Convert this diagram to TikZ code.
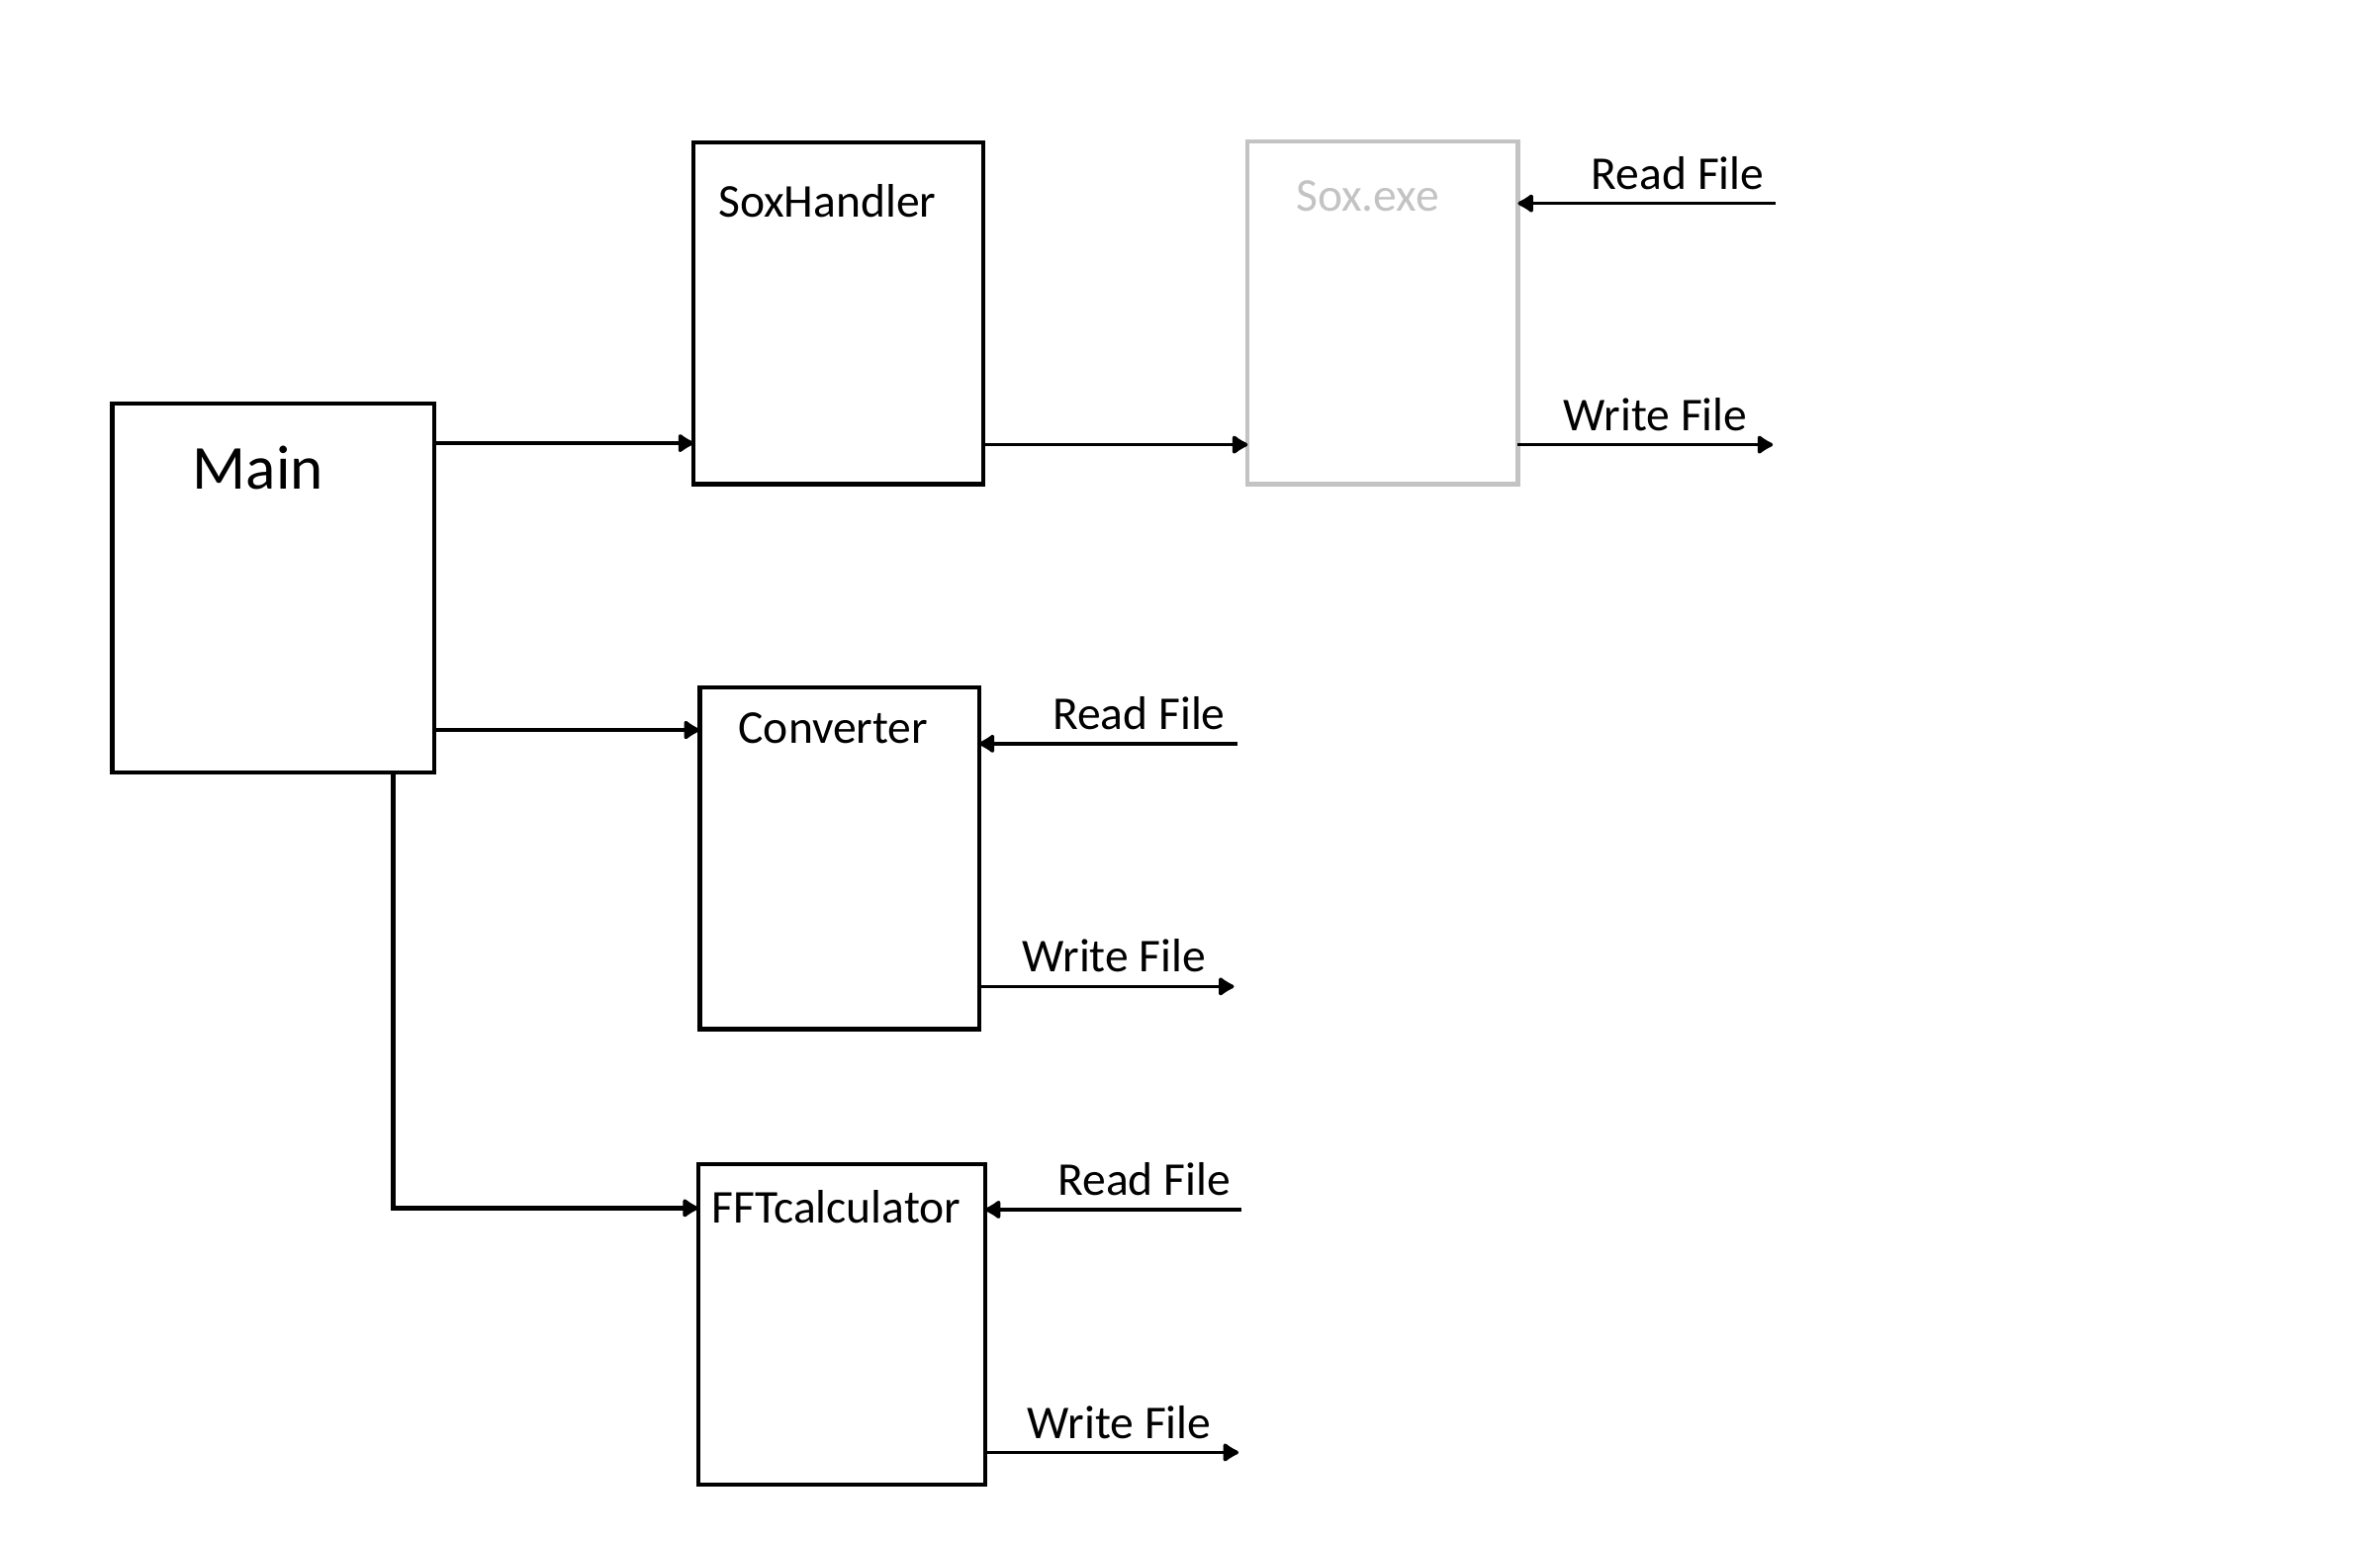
\documentclass[tikz,border=0pt]{standalone}
\usepackage{fontspec}
\setmainfont{Carlito}
\usetikzlibrary{positioning, arrows.meta}

\tikzset{
  box/.style={draw, line width=1.4pt, inner sep=0pt, outer sep=0pt},
  conn/.style={line width=1.2pt, -{Latex[length=6pt,width=7.5pt,round]}},
  lbl/.style={font=\fontsize{15.5}{18}\selectfont, inner sep=0pt},
  flbl/.style={lbl, above=4pt},
}
\definecolor{soxgray}{HTML}{C3C3C3}

\begin{document}
\begin{tikzpicture}[x=0.5pt, y=-0.5pt]
                \useasboundingbox (0,0) rectangle (1568,1015.3);
                \node[box, minimum width=106pt, minimum height=121.5pt] (main) at (180,387.5) {};
                \node[box, minimum width=95.5pt, minimum height=112.5pt] (soxh) at (552.5,206.5) {};
                \node[box, draw=soxgray, minimum width=89pt, minimum height=113pt] (soxe) at (911,206) {};
                \node[box, minimum width=92pt, minimum height=112.5pt] (conv) at (553,565.5) {};
                \node[box, minimum width=94.5pt, minimum height=105.5pt] (fft) at (554.5,872.5) {};
                \node[lbl, font=\fontsize{20.6}{24}\selectfont, anchor=base] (tmain) at (170,322) {Main};
                \node[lbl, anchor=base] (tsoxh) at (545,143) {SoxHandler};
                \node[lbl, text=soxgray, anchor=base] (tsoxe) at (901,139) {Sox.exe};
                \node[lbl, anchor=base] (tconv) at (549,490) {Converter};
                \node[lbl, anchor=base] (tfft) at (551,806) {FFTcalculator};
                \coordinate (m1) at ([yshift=-13pt]main.north east);
                \coordinate (m2) at ([yshift=-107.5pt]main.north east);
                \coordinate (m3) at ([xshift=-13.5pt]main.south east);
                \coordinate (f1) at ([yshift=-14.5pt]fft.north west);
                \coordinate (s1) at ([yshift=13pt]soxh.south east);
                \coordinate (rs) at ([xshift=85pt,yshift=-20.5pt]soxe.north east);
                \coordinate (ws) at ([xshift=84pt,yshift=13pt]soxe.south east);
                \coordinate (rc) at ([xshift=85pt,yshift=-18.5pt]conv.north east);
                \coordinate (wc) at ([xshift=84pt,yshift=14pt]conv.south east);
                \coordinate (rf) at ([xshift=84.5pt,yshift=-15pt]fft.north east);
                \coordinate (wf) at ([xshift=83.5pt,yshift=10.5pt]fft.south east);
                \draw[conn] (m1) -- (m1 -| soxh.west);
                \draw[conn, line width=1.1pt] (m2) -- (m2 -| conv.west);
                \draw[conn, line width=1.5pt] (m3) |- (f1);
                \draw[conn] (s1) -- (s1 -| soxe.west);
                \draw[conn] (rs) -- node[flbl, pos=.38] {Read File} (rs -| soxe.east);
                \draw[conn] (ws -| soxe.east) -- node[flbl, pos=.54] {Write File} (ws);
                \draw[conn] (rc) -- node[flbl, pos=.38] {Read File} (rc -| conv.east);
                \draw[conn] (wc -| conv.east) -- node[flbl, pos=.53] {Write File} (wc);
                \draw[conn] (rf) -- node[flbl, pos=.38] {Read File} (rf -| fft.east);
                \draw[conn] (wf -| fft.east) -- node[flbl, pos=.53] {Write File} (wf);
\end{tikzpicture}
\end{document}
